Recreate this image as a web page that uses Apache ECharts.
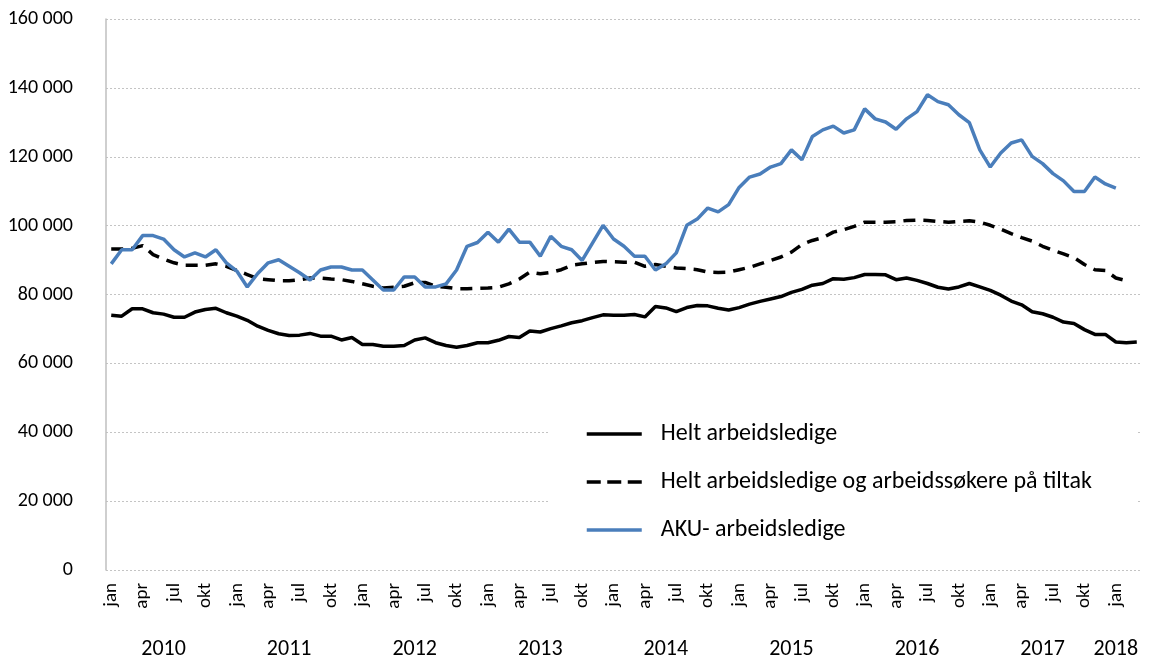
<!DOCTYPE html>
<html>
<head>
<meta charset="utf-8">
<script src="https://cdn.jsdelivr.net/npm/echarts@6/dist/echarts.min.js"></script>
<style>
  html, body { margin: 0; padding: 0; background: #fff; }
  #chart { width: 1153px; height: 660px; }
</style>
</head>
<body>
<div id="chart"></div>
<script>
// måneder og år (jan 2010 - mar 2018)
const monthNames = ["jan", "feb", "mar", "apr", "mai", "jun", "jul", "aug", "sep", "okt", "nov", "des"];
const years = [2010, 2011, 2012, 2013, 2014, 2015, 2016, 2017, 2018];
const yTicks = [0, 20000, 40000, 60000, 80000, 100000, 120000, 140000, 160000];

const seriesNames = [
  "Helt arbeidsledige",
  "Helt arbeidsledige og arbeidssøkere på tiltak",
  "AKU- arbeidsledige"
];

// Helt arbeidsledige (jan 2010 - mar 2018)
const heltLedige = [
  74000, 73700, 75850, 75850, 74700, 74300, 73400, 73400, 74900, 75650, 76000, 74700,
  73700, 72500, 70800, 69600, 68600, 68100, 68200, 68700, 67900, 67900, 66800, 67500,
  65500, 65500, 65000, 65000, 65200, 66800, 67400, 66000, 65200, 64700, 65200, 66000,
  66000, 66700, 67800, 67500, 69400, 69100, 70100, 70900, 71800, 72400, 73300, 74100,
  74000, 74000, 74200, 73500, 76500, 76100, 75000, 76200, 76800, 76700, 76000, 75500,
  76200, 77200, 78000, 78700, 79400, 80600, 81500, 82700, 83200, 84600, 84400, 84900,
  85800, 85800, 85700, 84300, 84800, 84100, 83200, 82100, 81600, 82200, 83200, 82200,
  81200, 79800, 78100, 77000, 75000, 74400, 73400, 72000, 71600, 69800, 68400, 68400,
  66200, 66000, 66200
];

// Helt arbeidsledige og arbeidssøkere på tiltak (jan 2010 - feb 2018)
const medTiltak = [
  93200, 93200, 93400, 94200, 91600, 90300, 89200, 88500, 88500, 88500, 88900, 88200,
  87000, 85800, 84600, 84300, 84000, 84000, 84300, 84800, 84800, 84500, 84300, 83800,
  83100, 82400, 81900, 82100, 82400, 83400, 83500, 82400, 82100, 81700, 81700, 81800,
  81900, 82100, 83100, 84500, 86500, 86000, 86400, 87200, 88500, 88900, 89300, 89600,
  89500, 89400, 89400, 88200, 88700, 88200, 87700, 87500, 87200, 86500, 86400, 86500,
  87200, 87900, 88900, 89900, 90900, 92300, 94500, 95700, 96500, 98100, 98800, 99800,
  101000, 101000, 101000, 101100, 101500, 101600, 101500, 101200, 101000, 101200, 101400, 101000,
  100100, 99000, 97700, 96500, 95500, 94000, 92800, 91800, 90700, 88700, 87200, 87000,
  84800, 84000
];

// AKU- arbeidsledige (jan 2010 - jan 2018)
const akuLedige = [
  88900, 93000, 93000, 97100, 97100, 96100, 93000, 90900, 92100, 90900, 93000, 89200,
  86800, 82200, 86100, 89200, 90100, 88200, 86300, 84200, 87100, 88000, 88000, 87100,
  87100, 84200, 81300, 81300, 85100, 85100, 82200, 82200, 83100, 87100, 94000, 95100,
  98100, 95200, 99000, 95200, 95200, 91100, 96900, 94000, 93000, 89900, 95000, 100100,
  96100, 94000, 91100, 91100, 87100, 88900, 92100, 100100, 101900, 105100, 104000, 106100,
  111100, 114100, 115000, 117000, 118000, 122000, 119100, 125900, 127800, 128900, 126900, 127800,
  133900, 131000, 130100, 128000, 131000, 133100, 138000, 136000, 135100, 132200, 129900, 122000,
  117000, 121100, 124000, 124900, 120100, 118000, 115100, 113000, 109900, 109900, 114100, 112100,
  110900
];

const fontFamily = "Carlito, Lato, sans-serif";

// kategorier "jan 2010" ...
let categories = [];
years.forEach(function (y) {
  monthNames.forEach(function (m) {
    categories.push(m + " " + y);
  });
});
categories = categories.slice(0, heltLedige.length);

// hvor årstallet står: midt i året, men ikke etter siste jan
const lastJan = categories.length - 1 - ((categories.length - 1) % 12);
const yearLabelIdx = years.map(function (y, i) {
  return Math.min(i * 12 + 5, lastJan);
});

function pad(arr) {
  let out = arr.slice();
  while (out.length < categories.length) out.push(null);
  return out;
}

function fmtThousands(v) {
  return String(v).replace(/\B(?=(\d{3})+(?!\d))/g, " ");
}

let chart = echarts.init(document.getElementById("chart"));

let option = {
  animation: false,
  textStyle: { fontFamily: fontFamily },
  grid: { left: 106, right: 11, top: 19, bottom: 89 },
  legend: {
    orient: "vertical",
    left: 550,
    top: 408,
    padding: [12, 45, 12, 35],
    backgroundColor: "#fff",
    itemWidth: 55,
    itemHeight: 14,
    itemGap: 20,
    itemStyle: { opacity: 0 }, // bare linja, ingen sirkel
    lineStyle: { width: 3.5 },
    textStyle: {
      fontSize: 24,
      color: "#000",
      fontFamily: fontFamily,
      lineHeight: 28,
      padding: [0, 0, 0, 14]
    },
    data: [
      { name: seriesNames[0] },
      { name: seriesNames[1], lineStyle: { type: [14, 6.5], width: 3.5 } },
      { name: seriesNames[2] }
    ]
  },
  xAxis: [
    {
      type: "category",
      data: categories,
      boundaryGap: true,
      axisLine: { show: false },
      axisTick: { show: false },
      axisLabel: {
        interval: 2,
        rotate: 90,
        margin: 13,
        fontSize: 19,
        color: "#000",
        fontFamily: fontFamily,
        formatter: function (v) { return v.split(" ")[0]; }
      }
    },
    {
      // årstall under månedene
      type: "category",
      data: categories,
      position: "bottom",
      boundaryGap: true,
      axisLine: { show: false },
      axisTick: { show: false },
      splitLine: { show: false },
      axisLabel: {
        interval: function (idx) { return yearLabelIdx.indexOf(idx) >= 0; },
        margin: 68,
        fontSize: 22,
        color: "#000",
        fontFamily: fontFamily,
        formatter: function (v) { return v.split(" ")[1]; }
      }
    }
  ],
  yAxis: {
    type: "value",
    min: yTicks[0],
    max: yTicks[yTicks.length - 1],
    interval: yTicks[1] - yTicks[0],
    axisLine: { show: true, lineStyle: { color: "#bfbfbf", width: 1.5 } },
    axisTick: { show: false },
    splitLine: { lineStyle: { color: "#c4c4c4", width: 1, type: [2, 2] } },
    axisLabel: {
      margin: 33,
      fontSize: 20,
      color: "#000",
      fontFamily: fontFamily,
      formatter: fmtThousands
    }
  },
  series: [
    {
      name: seriesNames[0],
      type: "line",
      xAxisIndex: 0,
      symbol: "none",
      data: pad(heltLedige),
      lineStyle: { color: "#000", width: 3.5 },
      itemStyle: { color: "#000" }
    },
    {
      name: seriesNames[1],
      type: "line",
      xAxisIndex: 0,
      symbol: "none",
      data: pad(medTiltak),
      lineStyle: { color: "#000", width: 3.5, type: [12, 8] },
      itemStyle: { color: "#000" }
    },
    {
      name: seriesNames[2],
      type: "line",
      xAxisIndex: 0,
      symbol: "none",
      data: pad(akuLedige),
      lineStyle: { color: "#4A7EBB", width: 3.5 },
      itemStyle: { color: "#4A7EBB" }
    }
  ]
};

chart.setOption(option);
</script>
</body>
</html>
